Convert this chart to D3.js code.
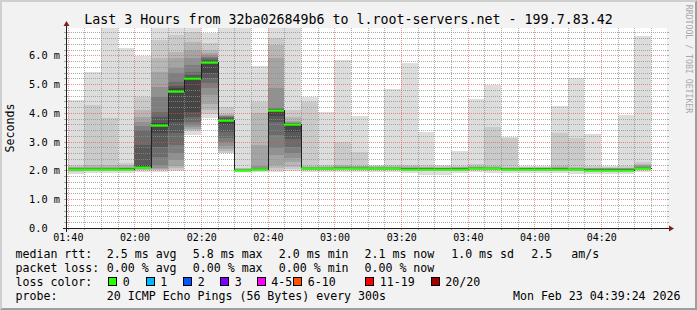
<!DOCTYPE html>
<html>
<head>
<meta charset="utf-8">
<script src="https://cdn.jsdelivr.net/npm/d3@7"></script>
<style>
body { margin: 0; background: #f2f2f2; }
svg { display: block; font-family: "DejaVu Sans Mono", monospace; }
</style>
</head>
<body>
<svg id="chart" width="697" height="310"></svg>
<script>
// 5 minute slots, 20 pings each (ms, sorted)
let slots = ['01:40', '01:45', '01:50', '01:55', '02:00', '02:05', '02:10', '02:15', '02:20', '02:25',
	'02:30', '02:35', '02:40', '02:45', '02:50', '02:55', '03:00', '03:05', '03:10', '03:15',
	'03:20', '03:25', '03:30', '03:35', '03:40', '03:45', '03:50', '03:55', '04:00', '04:05',
	'04:10', '04:15', '04:20', '04:25', '04:30'];

let medians = [2.05, 2.05, 2.05, 2.06, 2.12, 3.58, 4.76, 5.21, 5.77, 3.76,
	2.01, 2.04, 4.10, 3.61, 2.07, 2.07, 2.09, 2.08, 2.07, 2.07,
	2.06, 2.06, 2.06, 2.06, 2.08, 2.07, 2.05, 2.06, 2.06, 2.06,
	2.04, 2.03, 2.03, 2.03, 2.08];

let loss_count = [0, 0, 0, 0, 0, 0, 0, 0, 0, 0, 0, 0, 0, 0, 0, 0, 0, 0,
	0, 0, 0, 0, 0, 0, 0, 0, 0, 0, 0, 0, 0, 0, 0, 0, 0];

let pings = [
	[1.87, 1.96, 1.99, 2.01, 2.02, 2.03, 2.04, 2.04, 2.05, 2.05, 2.05, 2.06, 2.06, 2.07, 2.08, 2.09, 2.11, 2.13, 2.19, 4.45],
	[1.90, 1.97, 2.00, 2.01, 2.02, 2.03, 2.04, 2.04, 2.05, 2.05, 2.05, 2.06, 2.06, 2.07, 2.08, 2.10, 2.13, 2.20, 4.28, 5.43],
	[1.90, 1.97, 2.00, 2.01, 2.02, 2.03, 2.04, 2.04, 2.05, 2.05, 2.05, 2.06, 2.06, 2.07, 2.08, 2.10, 2.12, 2.18, 3.82, 7.50],
	[1.92, 1.98, 2.00, 2.02, 2.03, 2.04, 2.05, 2.05, 2.06, 2.06, 2.06, 2.07, 2.07, 2.08, 2.09, 2.10, 2.13, 2.18, 2.25, 6.26],
	[1.96, 2.00, 2.03, 2.05, 2.06, 2.07, 2.08, 2.09, 2.10, 2.11, 2.13, 2.19, 2.90, 3.40, 3.54, 3.69, 3.87, 4.10, 4.56, 5.99],
	[1.96, 2.00, 2.03, 2.05, 2.09, 2.20, 2.48, 2.83, 3.30, 3.54, 3.62, 3.65, 3.85, 4.04, 4.56, 4.91, 5.43, 5.91, 6.53, 7.30],
	[1.98, 2.03, 2.08, 2.15, 2.35, 2.60, 2.90, 3.30, 3.70, 4.72, 4.80, 4.85, 4.95, 5.08, 5.39, 5.56, 5.91, 6.13, 6.71, 7.40],
	[3.22, 3.37, 3.42, 3.45, 3.50, 3.58, 3.69, 3.87, 4.04, 5.18, 5.24, 5.26, 5.30, 5.43, 5.66, 5.91, 6.18, 6.47, 6.82, 7.50],
	[3.82, 3.95, 4.10, 4.30, 4.62, 4.85, 5.04, 5.20, 5.39, 5.74, 5.80, 5.82, 5.85, 5.90, 5.95, 6.00, 6.08, 6.18, 6.43, 6.77],
	[2.60, 2.62, 2.68, 2.75, 2.85, 2.98, 3.13, 3.35, 3.58, 3.74, 3.78, 3.80, 3.82, 3.85, 3.88, 3.90, 3.93, 3.97, 4.21, 7.50],
	[1.96, 1.98, 1.99, 2.00, 2.00, 2.00, 2.01, 2.01, 2.01, 2.01, 2.01, 2.02, 2.02, 2.02, 2.03, 2.04, 2.05, 2.07, 2.10, 7.40],
	[1.95, 1.98, 2.00, 2.01, 2.02, 2.02, 2.03, 2.03, 2.04, 2.04, 2.04, 2.05, 2.05, 2.06, 2.08, 2.15, 2.88, 3.99, 4.39, 5.63],
	[1.96, 2.02, 2.08, 2.19, 2.54, 2.77, 3.23, 3.69, 3.89, 4.09, 4.11, 4.12, 4.13, 4.14, 4.16, 4.85, 5.90, 6.36, 6.61, 7.30],
	[1.98, 2.05, 2.13, 2.30, 2.42, 2.60, 2.83, 3.10, 3.35, 3.60, 3.62, 3.63, 3.64, 3.65, 3.66, 3.68, 3.72, 3.87, 4.10, 7.30],
	[1.93, 2.00, 2.02, 2.03, 2.04, 2.04, 2.05, 2.05, 2.06, 2.07, 2.07, 2.08, 2.08, 2.09, 2.10, 2.11, 2.12, 2.15, 4.39, 4.56],
	[1.94, 2.00, 2.02, 2.03, 2.04, 2.05, 2.05, 2.06, 2.06, 2.07, 2.07, 2.08, 2.08, 2.09, 2.10, 2.11, 2.13, 2.16, 2.20, 4.04],
	[1.95, 2.02, 2.04, 2.05, 2.06, 2.07, 2.07, 2.08, 2.08, 2.09, 2.09, 2.10, 2.10, 2.11, 2.12, 2.13, 2.15, 2.18, 3.00, 5.84],
	[1.94, 2.01, 2.03, 2.04, 2.05, 2.06, 2.06, 2.07, 2.07, 2.08, 2.08, 2.09, 2.09, 2.10, 2.11, 2.12, 2.14, 2.17, 2.65, 3.89],
	[1.93, 2.00, 2.02, 2.03, 2.04, 2.05, 2.05, 2.06, 2.06, 2.07, 2.07, 2.08, 2.08, 2.09, 2.10, 2.11, 2.12, 2.14, 2.16, 2.19],
	[1.93, 2.00, 2.02, 2.03, 2.04, 2.05, 2.05, 2.06, 2.06, 2.07, 2.07, 2.08, 2.08, 2.09, 2.10, 2.11, 2.12, 2.15, 2.20, 4.82],
	[1.92, 1.99, 2.01, 2.02, 2.03, 2.04, 2.04, 2.05, 2.05, 2.06, 2.06, 2.07, 2.07, 2.08, 2.09, 2.10, 2.11, 2.14, 2.19, 5.74],
	[1.85, 1.98, 2.00, 2.02, 2.03, 2.04, 2.04, 2.05, 2.05, 2.06, 2.06, 2.07, 2.07, 2.08, 2.09, 2.10, 2.11, 2.13, 2.18, 3.35],
	[1.85, 1.98, 2.00, 2.02, 2.03, 2.04, 2.04, 2.05, 2.05, 2.06, 2.06, 2.07, 2.07, 2.08, 2.08, 2.09, 2.10, 2.12, 2.15, 2.19],
	[1.90, 1.99, 2.01, 2.02, 2.03, 2.04, 2.04, 2.05, 2.05, 2.06, 2.06, 2.07, 2.07, 2.08, 2.09, 2.10, 2.11, 2.13, 2.17, 2.68],
	[1.93, 2.01, 2.03, 2.04, 2.05, 2.06, 2.06, 2.07, 2.07, 2.08, 2.08, 2.09, 2.09, 2.10, 2.11, 2.12, 2.13, 2.16, 2.21, 4.48],
	[1.92, 2.00, 2.02, 2.03, 2.04, 2.05, 2.05, 2.06, 2.06, 2.07, 2.07, 2.08, 2.08, 2.09, 2.10, 2.11, 2.12, 2.15, 3.52, 4.97],
	[1.92, 1.98, 2.00, 2.01, 2.02, 2.03, 2.03, 2.04, 2.04, 2.05, 2.05, 2.06, 2.06, 2.07, 2.08, 2.09, 2.10, 2.13, 3.12, 3.17],
	[1.92, 1.99, 2.01, 2.02, 2.03, 2.04, 2.04, 2.05, 2.05, 2.06, 2.06, 2.07, 2.07, 2.08, 2.08, 2.09, 2.10, 2.11, 2.12, 2.14],
	[1.91, 1.99, 2.01, 2.02, 2.03, 2.04, 2.04, 2.05, 2.05, 2.06, 2.06, 2.07, 2.07, 2.08, 2.08, 2.09, 2.10, 2.11, 2.13, 2.15],
	[1.92, 1.99, 2.01, 2.02, 2.03, 2.04, 2.04, 2.05, 2.05, 2.06, 2.06, 2.07, 2.07, 2.08, 2.09, 2.10, 2.11, 2.14, 3.31, 4.24],
	[1.88, 1.97, 1.99, 2.00, 2.01, 2.02, 2.02, 2.03, 2.03, 2.04, 2.04, 2.05, 2.05, 2.06, 2.07, 2.08, 2.10, 2.13, 3.12, 5.20],
	[1.88, 1.96, 1.98, 1.99, 2.00, 2.01, 2.01, 2.02, 2.02, 2.03, 2.03, 2.04, 2.04, 2.05, 2.06, 2.07, 2.08, 2.10, 2.14, 3.27],
	[1.87, 1.96, 1.98, 1.99, 2.00, 2.01, 2.01, 2.02, 2.02, 2.03, 2.03, 2.04, 2.04, 2.05, 2.06, 2.07, 2.08, 2.10, 2.13, 2.16],
	[1.86, 1.96, 1.98, 1.99, 2.00, 2.01, 2.01, 2.02, 2.02, 2.03, 2.03, 2.04, 2.04, 2.05, 2.06, 2.07, 2.08, 2.10, 2.14, 3.93],
	[1.94, 2.01, 2.03, 2.04, 2.05, 2.06, 2.06, 2.07, 2.07, 2.08, 2.08, 2.09, 2.10, 2.11, 2.13, 2.15, 2.18, 2.22, 2.30, 6.68]
];

let loss_labels = ['0', '1', '2', '3', '4-5', '6-10', '11-19', '20/20'];
let loss_colors = ['#26ff00', '#00b8ff', '#0059ff', '#7e00ff', '#ff00ff', '#ff5500', '#ff0000', '#a10000'];

let title = 'Last 3 Hours from 32ba026849b6 to l.root-servers.net - 199.7.83.42';
let probe_text = '20 ICMP Echo Pings (56 Bytes) every 300s';
let stamp_text = 'Mon Feb 23 04:39:24 2026';
let day = '2026-02-23';
let y_max = 6.95;

// plot box (rrdtool style)
let X0 = 67, X1 = 667, Y0 = 228, Y1 = 28;
let W = 697, H = 310;

let parse_time = d3.utcParse('%Y-%m-%d %H:%M:%S');
let t_start = parse_time(day + ' 01:39:50');
let t_end = parse_time(day + ' 04:39:50');

let x = d3.scaleUtc().domain([t_start, t_end]).range([X0, X1]);
let y = d3.scaleLinear().domain([0, y_max]).range([Y0, Y1]);

let slot_start = slots.map(s => parse_time(day + ' ' + s + ':00'));
let slot_end = slot_start.map(t => d3.utcMinute.offset(t, 5));

function loss_index(n) {
	if (n <= 3) return n;
	if (n <= 5) return 4;
	if (n <= 10) return 5;
	if (n <= 19) return 6;
	return 7;
}

let svg = d3.select('#chart');

// background + 3d frame
svg.append('rect').attr('width', W).attr('height', H).attr('fill', '#f2f2f2');
svg.append('polygon')
	.attr('points', `0,${H} 0,0 ${W},0 ${W-2},2 2,2 2,${H-2}`)
	.attr('fill', '#cfcfcf');
svg.append('polygon')
	.attr('points', `0,${H} ${W},${H} ${W},0 ${W-2},2 ${W-2},${H-2} 2,${H-2}`)
	.attr('fill', '#9e9e9e');

svg.append('rect')
	.attr('x', X0).attr('y', Y1)
	.attr('width', X1 - X0).attr('height', Y0 - Y1)
	.attr('fill', '#ffffff');

svg.append('defs').append('clipPath').attr('id', 'plot-clip')
	.append('rect')
	.attr('x', X0).attr('y', Y1)
	.attr('width', X1 - X0).attr('height', Y0 - Y1);

// smoke: band ii goes from ping ii to ping (21-ii), darker towards the median
let half = 10;
let smoke = svg.append('g').attr('clip-path', 'url(#plot-clip)').attr('shape-rendering', 'crispEdges');
for (let ii = 1; ii <= half; ii++) {
	let g = Math.floor(190 / half * (half - ii)) + 50;
	smoke.selectAll('.smoke' + ii)
		.data(pings)
		.enter().append('rect')
		.attr('class', 'smoke' + ii)
		.attr('x', (d, i) => Math.round(x(slot_start[i])))
		.attr('width', (d, i) => Math.round(x(slot_end[i])) - Math.round(x(slot_start[i])))
		.attr('y', d => Math.round(y(d[20 - ii])))
		.attr('height', d => Math.max(0, Math.round(y(d[ii - 1])) - Math.round(y(d[20 - ii]))))
		.attr('fill', d3.rgb(g, g, g));
}

// grid
let grid = svg.append('g').attr('shape-rendering', 'crispEdges');
let minor_y = d3.range(0, y_max, 0.2).filter(v => Math.abs(v - Math.round(v)) > 0.01);
let major_y = d3.range(0, Math.floor(y_max) + 1);
let minor_x = d3.utcMinute.every(5).range(t_start, t_end).filter(t => t.getUTCMinutes() % 20 != 0);
let major_x = d3.utcMinute.every(20).range(t_start, t_end);
let grid_col = 'rgba(143,143,143,0.75)';
let mgrid_col = 'rgba(222,79,79,0.6)';

grid.selectAll('.minor-y').data(minor_y).enter().append('line')
	.attr('x1', X0).attr('x2', X1)
	.attr('y1', d => Math.round(y(d)) + 0.5).attr('y2', d => Math.round(y(d)) + 0.5)
	.attr('stroke', grid_col).attr('stroke-dasharray', '1,1');
grid.selectAll('.minor-x').data(minor_x).enter().append('line')
	.attr('y1', Y1).attr('y2', Y0)
	.attr('x1', d => Math.round(x(d)) + 0.5).attr('x2', d => Math.round(x(d)) + 0.5)
	.attr('stroke', grid_col).attr('stroke-dasharray', '1,1');
grid.selectAll('.major-y').data(major_y).enter().append('line')
	.attr('x1', X0).attr('x2', X1)
	.attr('y1', d => Math.round(y(d)) + 0.5).attr('y2', d => Math.round(y(d)) + 0.5)
	.attr('stroke', mgrid_col).attr('stroke-dasharray', '1,1');
grid.selectAll('.major-x').data(major_x).enter().append('line')
	.attr('y1', Y1).attr('y2', Y0)
	.attr('x1', d => Math.round(x(d)) + 0.5).attr('x2', d => Math.round(x(d)) + 0.5)
	.attr('stroke', mgrid_col).attr('stroke-dasharray', '1,1');

// tick marks just outside the plot
grid.selectAll('.tick-y').data(minor_y.concat(major_y)).enter().append('line')
	.attr('x1', X0 - 3).attr('x2', X0)
	.attr('y1', d => Math.round(y(d)) + 0.5).attr('y2', d => Math.round(y(d)) + 0.5)
	.attr('stroke', grid_col);
grid.selectAll('.tick-y2').data(minor_y.concat(major_y)).enter().append('line')
	.attr('x1', X1).attr('x2', X1 + 2)
	.attr('y1', d => Math.round(y(d)) + 0.5).attr('y2', d => Math.round(y(d)) + 0.5)
	.attr('stroke', grid_col);
grid.selectAll('.tick-x').data(minor_x.concat(major_x)).enter().append('line')
	.attr('y1', Y0).attr('y2', Y0 + 2)
	.attr('x1', d => Math.round(x(d)) + 0.5).attr('x2', d => Math.round(x(d)) + 0.5)
	.attr('stroke', grid_col);

// median: dark step line + loss coloured segments
let med_points = [];
medians.forEach((m, i) => {
	med_points.push([Math.round(x(slot_start[i])), y(m)]);
	med_points.push([Math.round(x(slot_end[i])), y(m)]);
});
svg.append('path')
	.attr('d', d3.line()(med_points.map(p => [p[0] + 0.5, Math.round(p[1]) + 0.5])))
	.attr('fill', 'none')
	.attr('stroke', '#202020')
	.attr('stroke-width', 1)
	.attr('shape-rendering', 'crispEdges');
svg.selectAll('.median-seg')
	.data(medians)
	.enter().append('rect')
	.attr('class', 'median-seg')
	.attr('x', (d, i) => Math.round(x(slot_start[i])))
	.attr('width', (d, i) => Math.round(x(slot_end[i])) - Math.round(x(slot_start[i])))
	.attr('y', d => Math.round(y(d)) - 0.5)
	.attr('height', 2.2)
	.attr('fill', (d, i) => loss_colors[loss_index(loss_count[i])]);

// axes with arrows
svg.append('line')
	.attr('x1', X0 - 4).attr('x2', X1 + 4)
	.attr('y1', Y0 + 0.5).attr('y2', Y0 + 0.5)
	.attr('stroke', '#1f1f1f').attr('shape-rendering', 'crispEdges');
svg.append('line')
	.attr('x1', X0 - 0.5).attr('x2', X0 - 0.5)
	.attr('y1', Y0 + 4).attr('y2', Y1 - 4)
	.attr('stroke', '#1f1f1f').attr('shape-rendering', 'crispEdges');
svg.append('polygon')
	.attr('points', `${X1+2},${Y0-2.5} ${X1+2},${Y0+3.5} ${X1+7},${Y0+0.5}`)
	.attr('fill', '#801f1f');
svg.append('polygon')
	.attr('points', `${X0-3.5},${Y1-2} ${X0+2.5},${Y1-2} ${X0-0.5},${Y1-7}`)
	.attr('fill', '#801f1f');

// axis labels
let fmt_time = d3.utcFormat('%H:%M');
svg.selectAll('.xlab').data(major_x).enter().append('text')
	.attr('x', d => x(d) + 0.8)
	.attr('y', 241)
	.attr('text-anchor', 'middle')
	.attr('font-size', '10px')
	.text(d => fmt_time(d));
svg.selectAll('.ylab').data(major_y).enter().append('text')
	.attr('x', 29)
	.attr('y', d => y(d) + 4)
	.attr('font-size', '10.3px')
	.text(d => d == 0 ? '0.0' : d3.format('.1f')(d) + ' m');

svg.append('text')
	.attr('transform', `translate(14.3, ${(Y0 + Y1) / 2}) rotate(-90)`)
	.attr('text-anchor', 'middle')
	.attr('font-size', '11.6px')
	.text('Seconds');

svg.append('text')
	.attr('x', 348.5).attr('y', 23.5)
	.attr('text-anchor', 'middle')
	.attr('font-size', '13.3px')
	.text(title);

svg.append('text')
	.attr('transform', 'translate(685.5, 59) rotate(90)')
	.attr('text-anchor', 'middle')
	.attr('font-size', '8.2px')
	.attr('fill', '#a8a8a8')
	.text('RRDTOOL / TOBI OETIKER');

// legend
let f1 = v => v.toFixed(1);
let avg = d3.mean(medians), sd = d3.deviation(medians);
let losses = loss_count.map(n => n / 20 * 100);
let f2 = v => v.toFixed(2);
let legend = svg.append('g').attr('font-size', '11.6px');

function put(txt, px, py) {
	legend.append('text').attr('x', px).attr('y', py).attr('xml:space', 'preserve').text(txt);
}

let row = [257.5, 271.8, 286, 300.3];
let cols = [15.5, 106.8, 192.8, 278.8, 364.5, 451.2];
put('median rtt:', cols[0], row[0]);
put(f1(avg) + ' ms avg', cols[1], row[0]);
put(f1(d3.max(medians)) + ' ms max', cols[2], row[0]);
put(f1(d3.min(medians)) + ' ms min', cols[3], row[0]);
put(f1(medians[medians.length - 1]) + ' ms now', cols[4], row[0]);
put(f1(sd) + ' ms sd', cols[5], row[0]);
put(f1(avg / sd), 531.2, row[0]);
put('am/s', 571.2, row[0]);

put('packet loss:', cols[0], row[1]);
put(f2(d3.mean(losses)) + ' % avg', cols[1], row[1]);
put(f2(d3.max(losses)) + ' % max', cols[2], row[1]);
put(f2(d3.min(losses)) + ' % min', cols[3], row[1]);
put(f2(losses[losses.length - 1]) + ' % now', cols[4], row[1]);

put('loss color:', cols[0], row[2]);
let sw_x = [108.5, 146, 183.5, 220.5, 257, 293.5, 365.5, 431];
loss_labels.forEach((lab, i) => {
	legend.append('rect')
		.attr('x', sw_x[i]).attr('y', 277.5)
		.attr('width', 8).attr('height', 8)
		.attr('fill', loss_colors[i])
		.attr('stroke', '#000').attr('stroke-width', 1)
		.attr('shape-rendering', 'crispEdges');
	put(lab, sw_x[i] + 14.3, row[2]);
});

put('probe:', cols[0], row[3]);
put(probe_text, cols[1], row[3]);
legend.append('text').attr('x', 680.5).attr('y', row[3])
	.attr('text-anchor', 'end').text(stamp_text);
</script>
</body>
</html>
